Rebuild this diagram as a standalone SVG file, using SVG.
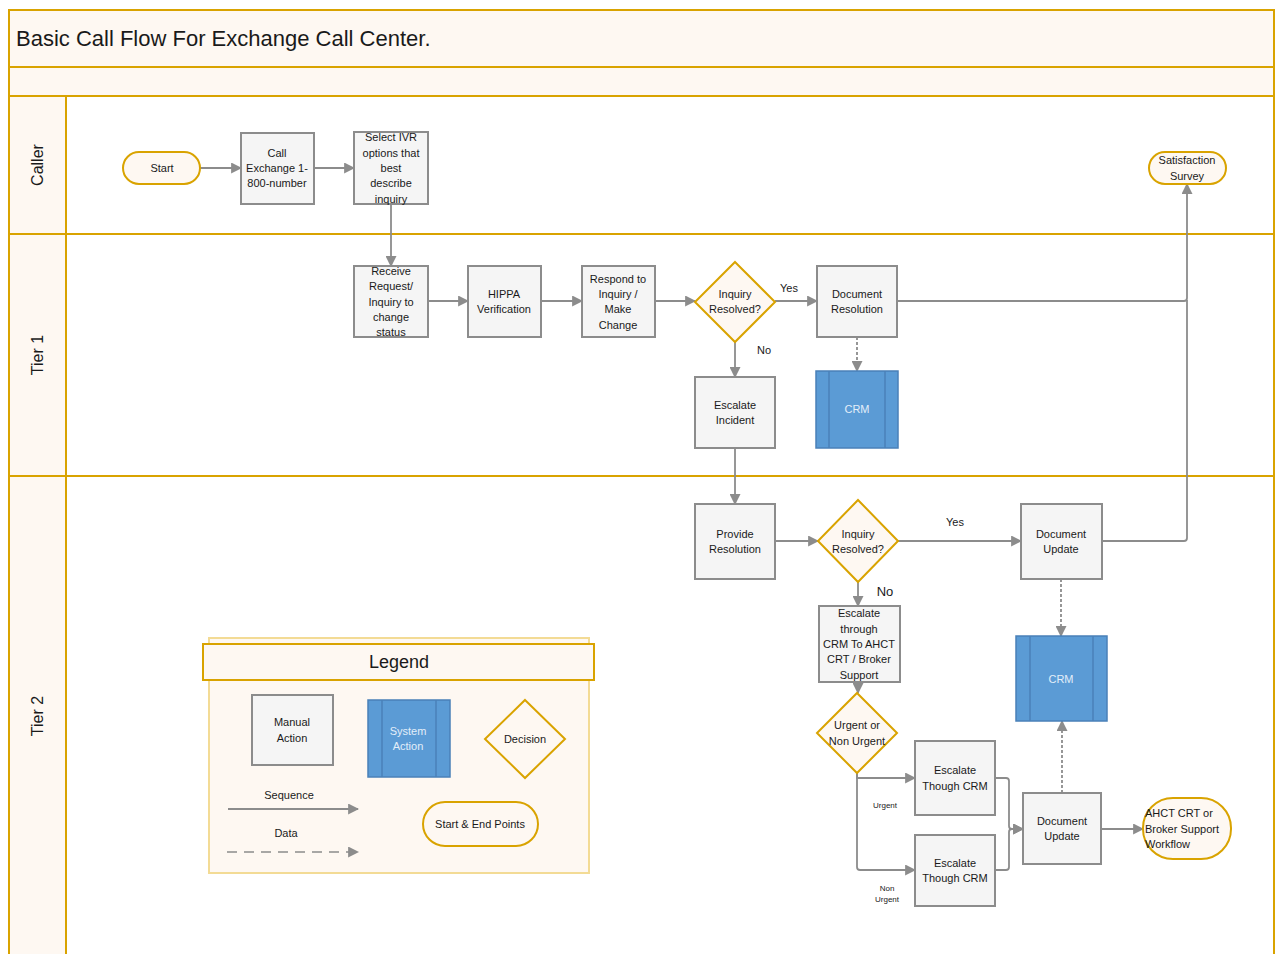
<svg xmlns="http://www.w3.org/2000/svg" width="1275" height="954" viewBox="0 0 1275 954">
<defs>
<style>
text{font-family:"Liberation Sans",Arial,sans-serif;fill:#1a1a1a;text-anchor:middle;dominant-baseline:central}
.t{font-size:11px}
.s{font-size:8px}
.lane{fill:#FEF8F2;stroke:#D9A300;stroke-width:2}
.box{fill:#F5F5F5;stroke:#8C8C8C;stroke-width:2}
.dec{fill:#FEF8F2;stroke:#D9A300;stroke-width:2}
.term{fill:#FEF8F2;stroke:#D9A300;stroke-width:2}
.sys{fill:#5B9BD5;stroke:#4A80B8;stroke-width:1.5}
.sysl{stroke:#4A80B8;stroke-width:1.5}
.wt{fill:#E3EEF9}
.c{fill:none;stroke:#8C8C8C;stroke-width:1.8;marker-end:url(#ah)}
.d{fill:none;stroke:#8C8C8C;stroke-width:1.8;stroke-dasharray:3,2;marker-end:url(#ah)}
</style>
<marker id="ah" viewBox="0 0 10 10" refX="9" refY="5" markerWidth="11" markerHeight="11" markerUnits="userSpaceOnUse" orient="auto"><path d="M0,0 L10,5 L0,10 z" fill="#8C8C8C"/></marker>
</defs>
<rect width="1275" height="954" fill="#FFFFFF"/>
<g id="frame">
<rect x="9" y="10" width="1265" height="57" class="lane"/>
<rect x="9" y="67" width="1265" height="29" class="lane"/>
<rect x="9" y="96" width="1265" height="138" fill="#FFFFFF" stroke="#D9A300" stroke-width="2"/>
<rect x="9" y="234" width="1265" height="242" fill="#FFFFFF" stroke="#D9A300" stroke-width="2"/>
<rect x="9" y="476" width="1265" height="490" fill="#FFFFFF" stroke="#D9A300" stroke-width="2"/>
<rect x="9" y="96" width="57" height="138" class="lane"/>
<rect x="9" y="234" width="57" height="242" class="lane"/>
<rect x="9" y="476" width="57" height="490" class="lane"/>
<text x="16" y="38" style="font-size:22px;text-anchor:start">Basic Call Flow For Exchange Call Center.</text>
<text transform="translate(37,165) rotate(-90)" style="font-size:16px">Caller</text>
<text transform="translate(37,355) rotate(-90)" style="font-size:16px">Tier 1</text>
<text transform="translate(37,716) rotate(-90)" style="font-size:16px">Tier 2</text>
</g>
<g id="connectors">
<path class="c" d="M200,168 H241"/>
<path class="c" d="M314,168 H354"/>
<path class="c" d="M391,204 V266"/>
<path class="c" d="M428,301 H468"/>
<path class="c" d="M541,301 H582"/>
<path class="c" d="M655,301 H695"/>
<path class="c" d="M775,301 H817"/>
<path class="c" d="M735,342 V377"/>
<path class="d" d="M857,337 V371"/>
<path class="c" d="M897,301 H1184 Q1187,301 1187,298 V184"/>
<path class="c" d="M735,448 V504"/>
<path class="c" d="M775,541 H818"/>
<path class="c" d="M898,541 H1021"/>
<path fill="none" stroke="#8C8C8C" stroke-width="1.8" d="M1102,541 H1184 Q1187,541 1187,538 V300"/>
<path class="c" d="M858,582 V606"/>
<path class="c" d="M858,682 V693"/>
<path class="d" d="M1061,579 V636"/>
<path class="c" d="M857,773 V778 H915"/>
<path class="c" d="M857,773 V867 Q857,870 860,870 H915"/>
<path class="c" d="M995,778 H1006 Q1009,778 1009,781 V826 Q1009,829 1012,829 H1023"/>
<path class="c" d="M995,870 H1006 Q1009,870 1009,867 V832 Q1009,829 1012,829 H1023"/>
<path class="d" d="M1062,793 V721"/>
<path class="c" d="M1101,829 H1143"/>
<text x="789" y="288" class="t">Yes</text>
<text x="764" y="350" class="t">No</text>
<text x="955" y="522" class="t">Yes</text>
<text x="885" y="591" style="font-size:13px">No</text>
<text x="885" y="805" class="s">Urgent</text>
<text x="887" y="888" class="s">Non</text>
<text x="887" y="899" class="s">Urgent</text>
</g>
<g id="start"><rect x="123" y="152" width="77" height="32" rx="16" class="term"/><text x="162" y="168" class="t">Start</text></g>
<g id="call-exchange"><rect x="241" y="133" width="73" height="71" class="box"/><text x="277" y="153" class="t">Call</text><text x="277" y="168" class="t">Exchange 1-</text><text x="277" y="183" class="t">800-number</text></g>
<g id="select-ivr"><rect x="354" y="132" width="74" height="72" class="box"/><text x="391" y="137" class="t">Select IVR</text><text x="391" y="153" class="t">options that</text><text x="391" y="168" class="t">best</text><text x="391" y="183" class="t">describe</text><text x="391" y="199" class="t">inquiry</text></g>
<g id="satisfaction-survey"><rect x="1149" y="152" width="77" height="32" rx="16" class="term"/><text x="1187" y="160" class="t">Satisfaction</text><text x="1187" y="176" class="t">Survey</text></g>
<g id="receive-request"><rect x="354" y="266" width="74" height="71" class="box"/><text x="391" y="271" class="t">Receive</text><text x="391" y="286" class="t">Request/</text><text x="391" y="302" class="t">Inquiry to</text><text x="391" y="317" class="t">change</text><text x="391" y="332" class="t">status</text></g>
<g id="hippa"><rect x="468" y="266" width="73" height="71" class="box"/><text x="504" y="294" class="t">HIPPA</text><text x="504" y="309" class="t">Verification</text></g>
<g id="respond"><rect x="582" y="266" width="73" height="71" class="box"/><text x="618" y="279" class="t">Respond to</text><text x="618" y="294" class="t">Inquiry /</text><text x="618" y="309" class="t">Make</text><text x="618" y="325" class="t">Change</text></g>
<g id="decision-1"><path d="M735,262 L775,302 L735,342 L695,302 Z" class="dec"/><text x="735" y="294" class="t">Inquiry</text><text x="735" y="309" class="t">Resolved?</text></g>
<g id="document-resolution"><rect x="817" y="266" width="80" height="71" class="box"/><text x="857" y="294" class="t">Document</text><text x="857" y="309" class="t">Resolution</text></g>
<g id="crm-1"><rect x="816" y="371" width="82" height="77" class="sys"/><line x1="829" y1="371" x2="829" y2="448" class="sysl"/><line x1="885" y1="371" x2="885" y2="448" class="sysl"/><text x="857" y="409" class="t wt">CRM</text></g>
<g id="escalate-incident"><rect x="695" y="377" width="80" height="71" class="box"/><text x="735" y="405" class="t">Escalate</text><text x="735" y="420" class="t">Incident</text></g>
<g id="provide-resolution"><rect x="695" y="504" width="80" height="75" class="box"/><text x="735" y="534" class="t">Provide</text><text x="735" y="549" class="t">Resolution</text></g>
<g id="decision-2"><path d="M858,500 L898,541 L858,582 L818,541 Z" class="dec"/><text x="858" y="534" class="t">Inquiry</text><text x="858" y="549" class="t">Resolved?</text></g>
<g id="document-update-1"><rect x="1021" y="504" width="81" height="75" class="box"/><text x="1061" y="534" class="t">Document</text><text x="1061" y="549" class="t">Update</text></g>
<g id="escalate-through"><rect x="819" y="606" width="81" height="76" class="box"/><text x="859" y="613" class="t">Escalate</text><text x="859" y="629" class="t">through</text><text x="859" y="644" class="t">CRM To AHCT</text><text x="859" y="659" class="t">CRT / Broker</text><text x="859" y="675" class="t">Support</text></g>
<g id="crm-2"><rect x="1016" y="636" width="91" height="85" class="sys"/><line x1="1030" y1="636" x2="1030" y2="721" class="sysl"/><line x1="1093" y1="636" x2="1093" y2="721" class="sysl"/><text x="1061" y="679" class="t wt">CRM</text></g>
<g id="urgent-decision"><path d="M857,693 L897,733 L857,773 L817,733 Z" class="dec"/><text x="857" y="725" class="t">Urgent or</text><text x="857" y="741" class="t">Non Urgent</text></g>
<g id="escalate-crm-urgent"><rect x="915" y="741" width="80" height="74" class="box"/><text x="955" y="770" class="t">Escalate</text><text x="955" y="786" class="t">Though CRM</text></g>
<g id="escalate-crm-nonurgent"><rect x="915" y="835" width="80" height="71" class="box"/><text x="955" y="863" class="t">Escalate</text><text x="955" y="878" class="t">Though CRM</text></g>
<g id="document-update-2"><rect x="1023" y="793" width="78" height="71" class="box"/><text x="1062" y="821" class="t">Document</text><text x="1062" y="836" class="t">Update</text></g>
<g id="ahct-workflow"><rect x="1143" y="798" width="88" height="61" rx="30" class="term"/><text x="1145" y="813" class="t" style="text-anchor:start">AHCT CRT or</text><text x="1145" y="829" class="t" style="text-anchor:start">Broker Support</text><text x="1145" y="844" class="t" style="text-anchor:start">Workflow</text></g>
<g id="legend">
<rect x="209" y="638" width="380" height="235" fill="#FEF8F2" stroke="#F3DB95" stroke-width="2"/>
<rect x="203" y="644" width="391" height="36" fill="#FEF8F2" stroke="#D9A300" stroke-width="2"/>
<text x="399" y="662" style="font-size:18px">Legend</text>
<rect x="252" y="695" width="81" height="70" class="box"/><text x="292" y="722" class="t">Manual</text><text x="292" y="738" class="t">Action</text>
<rect x="368" y="700" width="82" height="77" class="sys"/><line x1="382" y1="700" x2="382" y2="777" class="sysl"/><line x1="436" y1="700" x2="436" y2="777" class="sysl"/><text x="408" y="731" class="t wt">System</text><text x="408" y="746" class="t wt">Action</text>
<path d="M525,700 L565,739 L525,778 L485,739 Z" class="dec"/><text x="525" y="739" class="t">Decision</text>
<text x="289" y="795" class="t">Sequence</text>
<path class="c" d="M228,809 H358"/>
<text x="286" y="833" class="t">Data</text>
<path fill="none" stroke="#8C8C8C" stroke-width="1.6" stroke-dasharray="10,7" marker-end="url(#ah)" d="M227,852 H358"/>
<rect x="423" y="802" width="115" height="44" rx="22" class="term"/><text x="480" y="824" class="t">Start &amp; End Points</text>
</g>
</svg>
